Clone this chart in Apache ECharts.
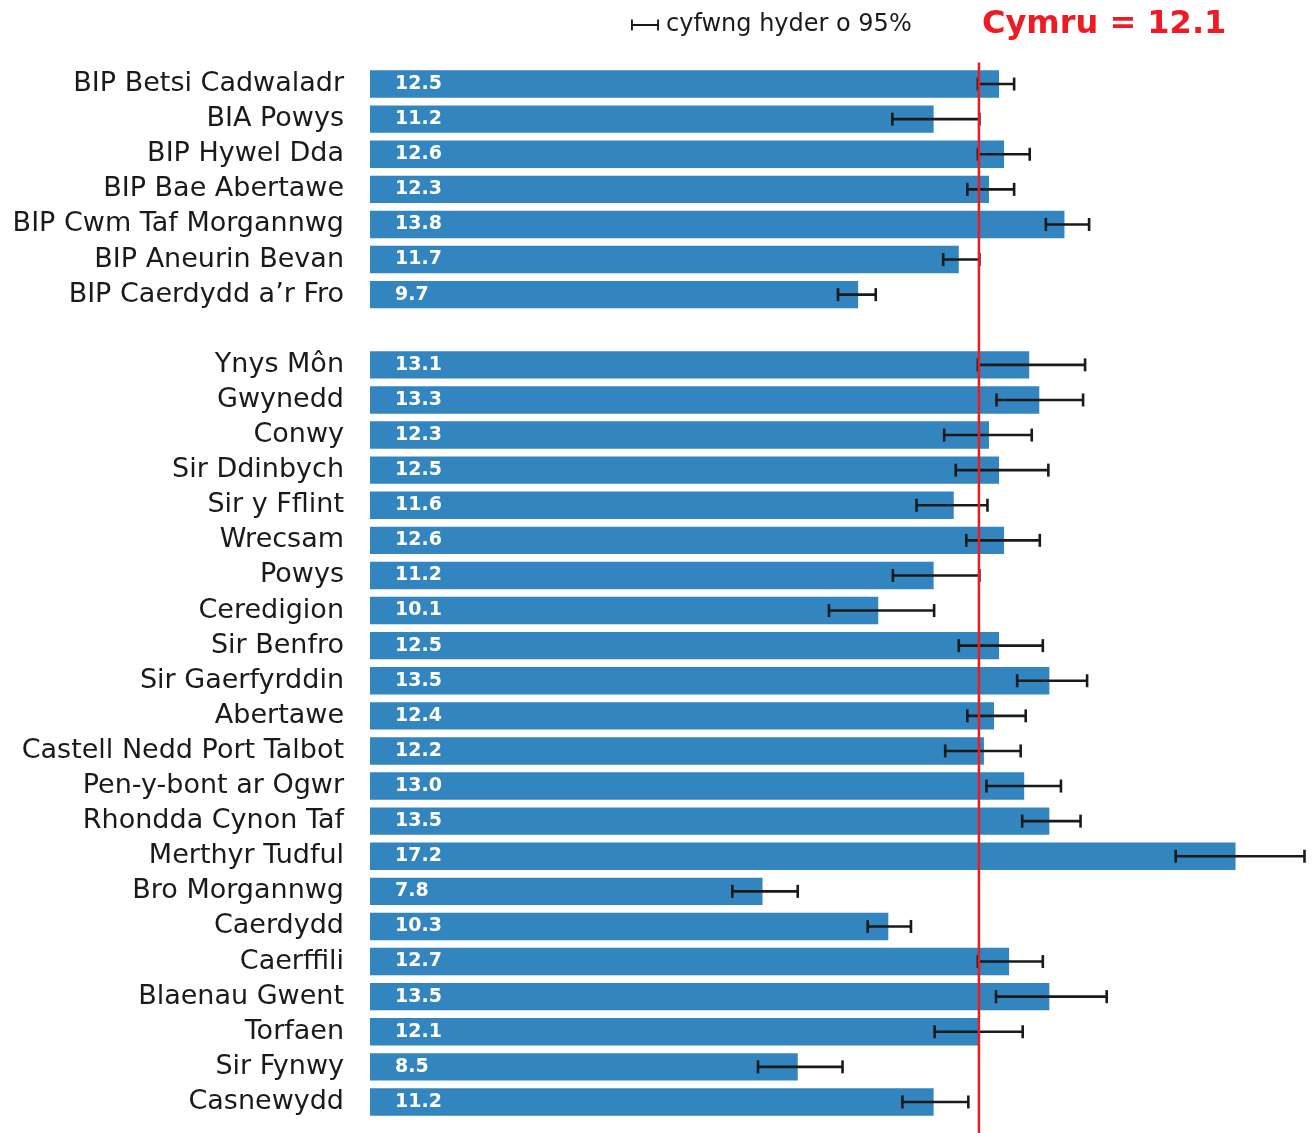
<!DOCTYPE html>
<html><head><meta charset="utf-8">
<script src="https://cdn.jsdelivr.net/npm/echarts@6/dist/echarts.min.js"></script>
<style>html,body{margin:0;padding:0;background:#fff}#c{width:1314px;height:1133px}</style>
</head><body><div id="c"></div>
<script>
const categories = ['BIP Betsi Cadwaladr','BIA Powys','BIP Hywel Dda','BIP Bae Abertawe','BIP Cwm Taf Morgannwg','BIP Aneurin Bevan','BIP Caerdydd a\u2019r Fro','',
 'Ynys Môn','Gwynedd','Conwy','Sir Ddinbych','Sir y Fflint','Wrecsam','Powys','Ceredigion','Sir Benfro','Sir Gaerfyrddin','Abertawe','Castell Nedd Port Talbot','Pen-y-bont ar Ogwr','Rhondda Cynon Taf','Merthyr Tudful','Bro Morgannwg','Caerdydd','Caerffili','Blaenau Gwent','Torfaen','Sir Fynwy','Casnewydd'];
const values = [12.5,11.2,12.6,12.3,13.8,11.7,9.7,null,
 13.1,13.3,12.3,12.5,11.6,12.6,11.2,10.1,12.5,13.5,12.4,12.2,13.0,13.5,17.2,7.8,10.3,12.7,13.5,12.1,8.5,11.2];
const lower = [12.08,10.38,12.08,11.87,13.43,11.39,9.30,null,
 12.08,12.45,11.41,11.64,10.86,11.85,10.39,9.12,11.70,12.86,11.87,11.43,12.25,12.96,16.01,7.20,9.89,12.08,12.44,11.22,7.71,10.58];
const upper = [12.80,12.11,13.11,12.80,14.29,12.11,10.05,null,
 14.21,14.17,13.15,13.48,12.27,13.31,12.11,11.21,13.37,14.25,13.03,12.93,13.73,14.12,18.57,8.50,10.75,13.37,14.64,12.97,9.39,11.89];
const walesValue = 12.1;
const legendLabel = 'cyfwng hyder o 95%';
const titleText = 'Cymru = 12.1';

const errData = [];
categories.forEach((c,i)=>{ if(lower[i]!=null) errData.push([i, lower[i], upper[i]]); });

const chart = echarts.init(document.getElementById('c'));
chart.setOption({
  animation:false,
  title:{text:titleText,left:977,top:4,textStyle:{color:'#ed1c24',fontSize:32,fontWeight:'bold',fontFamily:'DejaVu Sans'}},
  legend:{left:626,top:8,itemWidth:28,itemHeight:12,itemGap:0,
    textStyle:{fontSize:24,color:'#1a1a1a',fontFamily:'DejaVu Sans',padding:[0,0,0,2]},
    data:[{name:legendLabel,icon:'path://M0,0 L2,0 L2,5 L28,5 L28,0 L30,0 L30,12 L28,12 L28,7 L2,7 L2,12 L0,12 Z',itemStyle:{color:'#1a1a1a'}}]},
  grid:{left:370,right:8,top:66.5,bottom:13.5,containLabel:false},
  xAxis:{type:'value',min:0,max:18.6,show:false},
  yAxis:{type:'category',data:categories,inverse:true,
    axisLine:{show:false},axisTick:{show:false},splitLine:{show:false},
    axisLabel:{margin:26,fontSize:27,color:'#1a1a1a',fontFamily:'DejaVu Sans'}},
  series:[
    {type:'bar',data:values,barCategoryGap:'22%',itemStyle:{color:'#3385bf'},z:2,
      label:{show:true,position:'insideLeft',distance:25,color:'#fff',fontSize:19,fontWeight:'bold',fontFamily:'DejaVu Sans',
        formatter:p=>p.value==null?'':p.value.toFixed(1)}},
    {type:'custom',name:legendLabel,data:errData,z:5,encode:{x:[1,2],y:0},
      itemStyle:{color:'#1a1a1a'},
      renderItem:(params,api)=>{
        const y=api.value(0);
        const a=api.coord([api.value(1),y]);
        const b=api.coord([api.value(2),y]);
        const h=6.5;
        const st={stroke:'#1a1a1a',lineWidth:2.6};
        return {type:'group',children:[
          {type:'line',shape:{x1:a[0],y1:a[1],x2:b[0],y2:b[1]},style:st},
          {type:'line',shape:{x1:a[0],y1:a[1]-h,x2:a[0],y2:a[1]+h},style:st},
          {type:'line',shape:{x1:b[0],y1:b[1]-h,x2:b[0],y2:b[1]+h},style:st}
        ]};
      }},
    {type:'custom',data:[[walesValue]],z:10,encode:{x:0},silent:true,
      renderItem:(params,api)=>{
        const cs=params.coordSys;
        const x=api.coord([api.value(0),0])[0];
        return {type:'line',shape:{x1:x,y1:cs.y-4,x2:x,y2:cs.y+cs.height+16},style:{stroke:'#ed1c24',lineWidth:2.5}};
      }}
  ]
});
</script></body></html>
